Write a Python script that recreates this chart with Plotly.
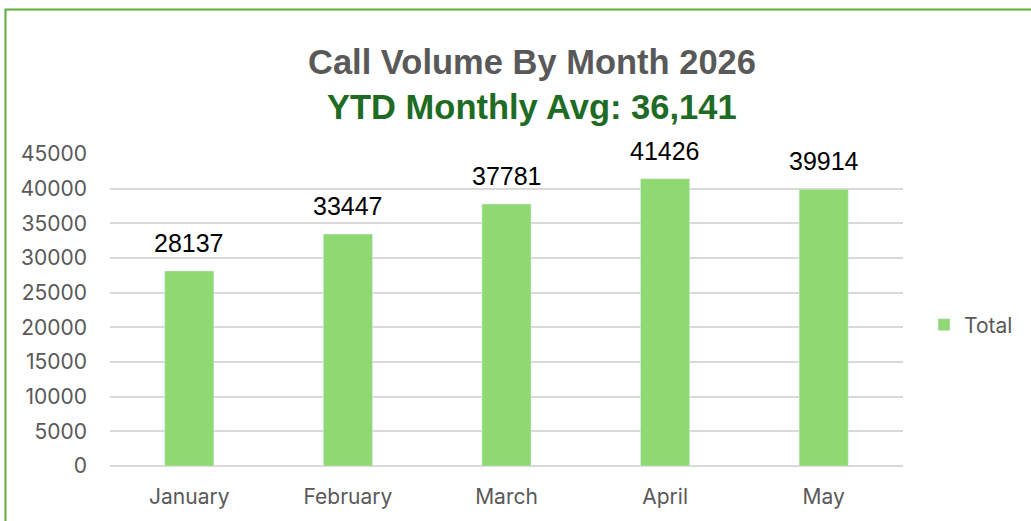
import plotly.graph_objects as go

months = ["January", "February", "March", "April", "May"]
totals = [28137, 33447, 37781, 41426, 39914]
y_ticks = [0, 5000, 10000, 15000, 20000, 25000, 30000, 35000, 40000, 45000]
y_tick_labels = [str(v) for v in y_ticks]

avg = round(sum(totals) / len(totals))

BAR = "#8fd973"
GREY = "#595959"
GREEN_T = "#1e6b24"
BORDER = "#5aae3b"

# plot-area pixel geometry helpers (for paper-referenced decorations)
L, R, T, B, W, H = 110, 128, 154, 55, 1031, 521
PW, PH = W - L - R, H - T - B
def px(x):
    return (x - L) / PW
def py(y):
    return (H - B - y) / PH

fig = go.Figure()
fig.add_trace(go.Bar(
    x=months, y=totals, name="Total", marker_color=BAR,
    showlegend=True,
))

for m, v in zip(months, totals):
    fig.add_annotation(x=m, y=v, text=str(v), showarrow=False,
                       yanchor="middle", yshift=28,
                       font=dict(family="Liberation Sans, Arial", size=25, color="#000000"))

title_font = "Liberation Sans Narrow, Arial Narrow, Liberation Sans, sans-serif"
fig.add_annotation(xref="paper", yref="paper", x=px(532), y=py(62),
                   xanchor="center", yanchor="middle", showarrow=False,
                   text="<b>Call Volume By Month 2026</b>",
                   font=dict(family=title_font, size=34.5, color=GREY))
fig.add_annotation(xref="paper", yref="paper", x=px(532), y=py(107),
                   xanchor="center", yanchor="middle", showarrow=False,
                   text=f"<b>YTD Monthly Avg: {avg:,}</b>",
                   font=dict(family=title_font, size=34.5, color=GREEN_T))

fig.update_layout(
    width=W, height=H,
    margin=dict(l=L, r=R, t=T, b=B, autoexpand=False),
    paper_bgcolor="white", plot_bgcolor="white",
    bargap=0.69,
    legend=dict(x=px(924), y=py(325), xanchor="left", yanchor="middle",
                font=dict(family="Inter, Noto Sans", size=21, color=GREY),
                itemwidth=30),
    xaxis=dict(showgrid=False, showline=False, ticks="",
               tickfont=dict(family="Inter, Noto Sans", size=21, color=GREY),
               ticklabelstandoff=16),
    yaxis=dict(range=[0, 45000], tickvals=y_ticks, ticktext=y_tick_labels,
               showgrid=True, gridcolor="#d9d9d9", gridwidth=1.5, zeroline=True,
               zerolinecolor="#d9d9d9", zerolinewidth=1.5,
               tickfont=dict(family="Inter, Noto Sans", size=21, color=GREY),
               ticklabelstandoff=22),
    shapes=[dict(type="rect", xref="paper", yref="paper",
                 x0=px(5.5), x1=px(1045), y0=py(540), y1=py(9.5),
                 line=dict(color=BORDER, width=2), layer="below")],
)

fig.write_html("out.html")
